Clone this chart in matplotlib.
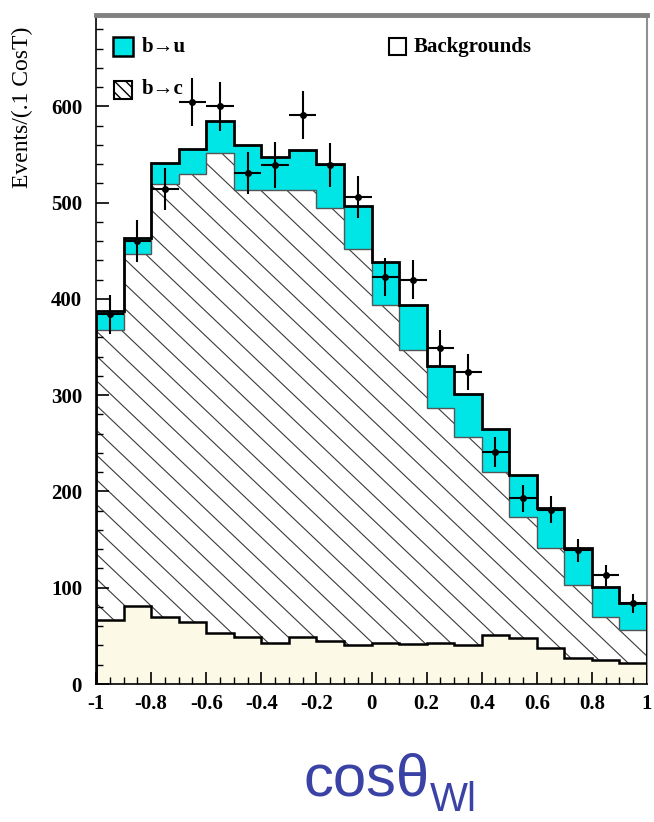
import numpy as np
import matplotlib
matplotlib.use("Agg")
import matplotlib.pyplot as plt
from matplotlib.patches import Rectangle
from matplotlib.ticker import MultipleLocator, FixedLocator, FixedFormatter

# bin edges of cos(theta_Wl), 0.1 wide
edges = np.linspace(-1, 1, 21)

# stacked components (events per bin)
bkg = [66, 81, 70, 64, 53, 49, 43, 49, 45, 40, 43, 42, 43, 40, 51, 48, 37, 27, 25, 22]
b_to_c = [302, 366, 449, 466, 499, 464, 470, 464, 449, 412, 351, 305, 244, 217, 169, 126, 104, 76, 45, 34]
b_to_u = [19, 16, 22, 26, 33, 47, 35, 42, 46, 45, 44, 47, 43, 44, 45, 43, 42, 38, 31, 28]

# data points
data = [384, 460, 514, 605, 600, 531, 539, 591, 539, 506, 423, 420, 349, 324, 241, 193, 181, 139, 113, 84]
data_err = [20, 22, 22, 25, 25, 22, 24, 25, 23, 22, 20, 20, 19, 19, 16, 14, 14, 12, 11, 10]

xtick_vals = [-1, -0.8, -0.6, -0.4, -0.2, 0, 0.2, 0.4, 0.6, 0.8, 1]
xtick_labels = ["-1", "-0.8", "-0.6", "-0.4", "-0.2", "0", "0.2", "0.4", "0.6", "0.8", "1"]

cyan = "#00e6e6"
beige = "#fcf9e6"
serif = ["Liberation Serif", "DejaVu Serif"]

fig = plt.figure(figsize=(6.54, 8.22), dpi=100)
ax = fig.add_axes([96/654, 138/822, 551/654, 669/822])

bkg = np.array(bkg, float)
lvl_c = bkg + np.array(b_to_c)
lvl_u = lvl_c + np.array(b_to_u)

ax.stairs(bkg, edges, baseline=0, fill=True, color=beige, zorder=1)
hatch_area = ax.stairs(lvl_c, edges, baseline=bkg, fill=True, facecolor="white", zorder=1)
ax.stairs(lvl_u, edges, baseline=lvl_c, fill=True, facecolor=cyan, zorder=2)

# hatching of b->c region, drawn as clipped diagonal lines
slope = 0.95 * 551 / 669
for c in np.arange(0.01, 1 + slope + 0.05, 0.037):
    ln, = ax.plot([0, 1], [c, c - slope], transform=ax.transAxes,
                  color="#3a3a3a", lw=0.8, zorder=1.5)
    ln.set_clip_path(hatch_area)

ax.stairs(lvl_c, edges, color="#555555", lw=1.0, zorder=3)
ax.stairs(lvl_u, edges, color="black", lw=2.0, zorder=3)
ax.stairs(bkg, edges, color="black", lw=1.8, zorder=3)

centers = (edges[:-1] + edges[1:]) / 2
ax.errorbar(centers, data, yerr=data_err, xerr=0.05, fmt="o", color="black",
            ms=4, elinewidth=1.5, capsize=0, zorder=5)

ax.set_xlim(-1, 1)
ax.set_ylim(0, 695)

ax.xaxis.set_major_locator(FixedLocator(xtick_vals))
ax.xaxis.set_major_formatter(FixedFormatter(xtick_labels))
ax.xaxis.set_minor_locator(MultipleLocator(0.05))
ax.yaxis.set_major_locator(MultipleLocator(100))
ax.yaxis.set_minor_locator(MultipleLocator(20))
ax.tick_params(which="both", direction="in", top=False, right=False, color="black")
ax.tick_params(which="major", length=9, width=1.2)
ax.tick_params(which="minor", length=5, width=1.0)
ax.tick_params(axis="x", pad=7)
ax.tick_params(axis="y", pad=10)
for lab in ax.get_xticklabels() + ax.get_yticklabels():
    lab.set_family(serif)
    lab.set_fontweight("bold")
    lab.set_fontsize(15)

ax.spines["top"].set_color("#808080")
ax.spines["top"].set_linewidth(3.5)
ax.spines["right"].set_color("#909090")
ax.spines["right"].set_linewidth(1.5)
ax.spines["left"].set_linewidth(1.2)
ax.spines["bottom"].set_linewidth(1.2)

# legend
def fx(px):
    return (px - 96) / 551

def fy(py):
    return (684 - py) / 669

ax.add_patch(Rectangle((fx(113), fy(56)), 20/551, 19/669, transform=ax.transAxes,
                       facecolor=cyan, edgecolor="black", lw=1.8, zorder=6))
ax.text(fx(142), fy(47), "b→u", transform=ax.transAxes, family=serif,
        fontweight="bold", fontsize=15, va="center", zorder=6)
ax.add_patch(Rectangle((fx(114), fy(99)), 18/551, 18/669, transform=ax.transAxes,
                       facecolor="white", edgecolor="black", hatch="\\\\\\", lw=1.5, zorder=6))
ax.text(fx(142), fy(89), "b→c", transform=ax.transAxes, family=serif,
        fontweight="bold", fontsize=15, va="center", zorder=6)
ax.add_patch(Rectangle((fx(389), fy(55)), 17/551, 17/669, transform=ax.transAxes,
                       facecolor="white", edgecolor="black", lw=1.5, zorder=6))
ax.text(fx(414), fy(47), "Backgrounds", transform=ax.transAxes, family=serif,
        fontweight="bold", fontsize=15, va="center", zorder=6)

fig.text(22/654, 1 - 107/822, "Events/(.1 CosT)", rotation=90, ha="center", va="center",
         family=serif, fontsize=17)

blue = "#3a42a6"
fig.text(303/654, 1 - 795/822, "cosθ", family=["Liberation Sans", "DejaVu Sans"],
         fontsize=43, color=blue, va="baseline", ha="left")
fig.text(430/654, 1 - 811/822, "Wl", family=["Liberation Sans", "DejaVu Sans"],
         fontsize=29, color=blue, va="baseline", ha="left")

fig.savefig("out.png", dpi=100, facecolor="white")
